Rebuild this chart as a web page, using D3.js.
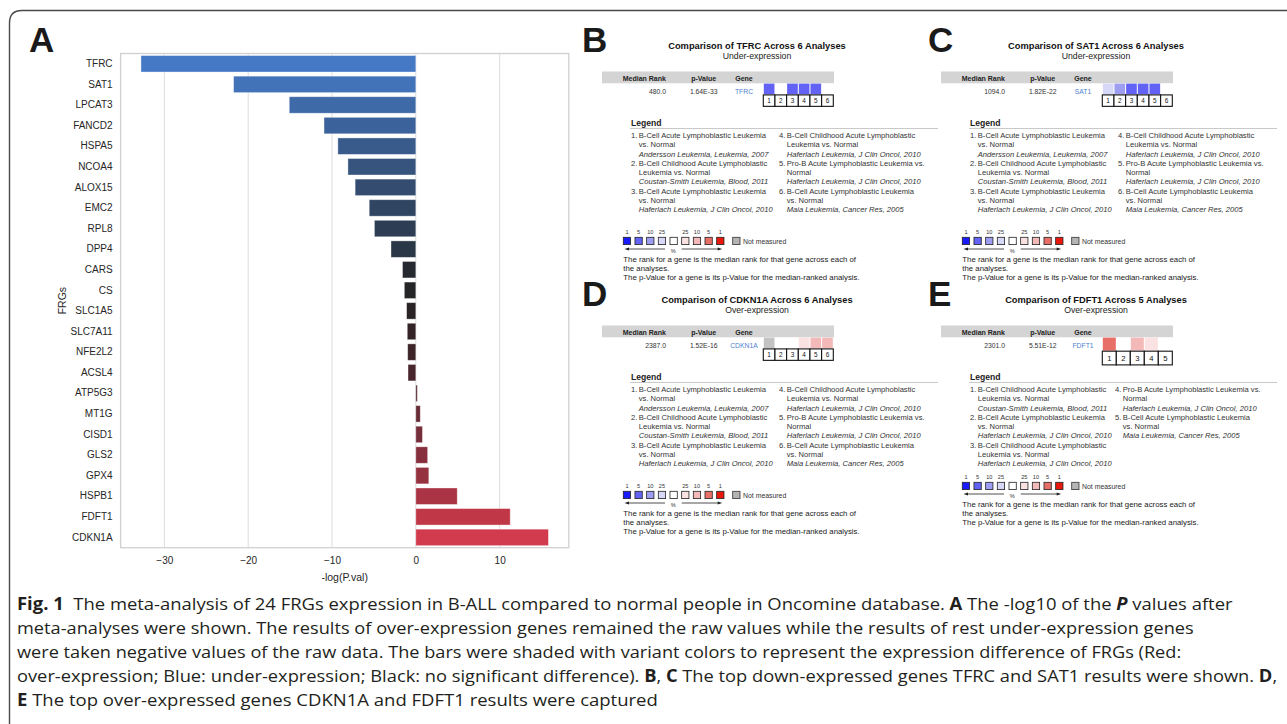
<!DOCTYPE html>
<html>
<head>
<meta charset="utf-8">
<script src="https://cdn.jsdelivr.net/npm/d3@7"></script>
<style>
  body { margin: 0; background: #fff; }
  svg { display: block; }
  text { white-space: pre; }
</style>
</head>
<body>
<svg id="fig" width="1287" height="724"></svg>
<script>
// ---------- Panel A: meta-analysis of 24 FRGs ----------
const genes = ["TFRC","SAT1","LPCAT3","FANCD2","HSPA5","NCOA4","ALOX15","EMC2","RPL8","DPP4",
  "CARS","CS","SLC1A5","SLC7A11","NFE2L2","ACSL4","ATP5G3","MT1G","CISD1","GLS2","GPX4",
  "HSPB1","FDFT1","CDKN1A"];
const negLogP = [-32.79,-21.74,-15.1,-10.95,-9.3,-8.1,-7.24,-5.56,-4.94,-2.96,
  -1.59,-1.37,-1.1,-1.02,-0.97,-0.93,0.18,0.53,0.79,1.41,1.55,
  4.94,11.26,15.82];
const xTicks = [-30,-20,-10,0,10];
const barColors = ["#4579c6","#4273b8","#3e6aa8","#3b629a","#385b8c","#36547e","#334c70","#304562",
  "#2d3e54","#2a3746","#262a30","#242526","#2a2326","#332326","#3d2429","#48252c","#562931",
  "#672c36","#762e3a","#872f3d","#963140","#aa3444","#c03848","#d23b4d"];

// ---------- Panels B–E: Oncomine comparisons ----------
const cellsTFRC = ["u5","w","u5","u5","u5","w"];
const cellsSAT1 = ["u25","u10","u5","u5","u5","w"];
const cellsCDKN1A = ["na","w","w","o25","o10","o10"];
const cellsFDFT1 = ["o5","w","o10","o25","w"];
const cellFill = {u1:"#1a1aff",u5:"#6262f5",u10:"#9d9df2",u25:"#d7d7f8",w:"#ffffff",
  o25:"#fbe2e2",o10:"#f3b8b8",o5:"#e86f68",o1:"#e8180c",na:"#c2c2c2"};

const analysesSix = [
  ["1.","B-Cell Acute Lymphoblastic Leukemia","vs. Normal","Andersson Leukemia, Leukemia, 2007"],
  ["2.","B-Cell Childhood Acute Lymphoblastic","Leukemia vs. Normal","Coustan-Smith Leukemia, Blood, 2011"],
  ["3.","B-Cell Acute Lymphoblastic Leukemia","vs. Normal","Haferlach Leukemia, J Clin Oncol, 2010"],
  ["4.","B-Cell Childhood Acute Lymphoblastic","Leukemia vs. Normal","Haferlach Leukemia, J Clin Oncol, 2010"],
  ["5.","Pro-B Acute Lymphoblastic Leukemia vs.","Normal","Haferlach Leukemia, J Clin Oncol, 2010"],
  ["6.","B-Cell Acute Lymphoblastic Leukemia","vs. Normal","Maia Leukemia, Cancer Res, 2005"]
];
const analysesFive = [
  ["1.","B-Cell Childhood Acute Lymphoblastic","Leukemia vs. Normal","Coustan-Smith Leukemia, Blood, 2011"],
  ["2.","B-Cell Acute Lymphoblastic Leukemia","vs. Normal","Haferlach Leukemia, J Clin Oncol, 2010"],
  ["3.","B-Cell Childhood Acute Lymphoblastic","Leukemia vs. Normal","Haferlach Leukemia, J Clin Oncol, 2010"],
  ["4.","Pro-B Acute Lymphoblastic Leukemia vs.","Normal","Haferlach Leukemia, J Clin Oncol, 2010"],
  ["5.","B-Cell Acute Lymphoblastic Leukemia","vs. Normal","Maia Leukemia, Cancer Res, 2005"]
];
const rankLabels = ["1","5","10","25","","25","10","5","1"];
const rankKeys = ["u1","u5","u10","u25","w","o25","o10","o5","o1"];
const footerLines = [
  "The rank for a gene is the median rank for that gene across each of",
  "the analyses.",
  "The p-Value for a gene is its p-Value for the median-ranked analysis."
];

const panels = [
  {letter:"B", gene:"TFRC", direction:"Under-expression", rank:"480.0", p:"1.64E-33", cells:cellsTFRC, analyses:analysesSix, dx:0, dy:0, keyShift:0, col2:0},
  {letter:"C", gene:"SAT1", direction:"Under-expression", rank:"1094.0", p:"1.82E-22", cells:cellsSAT1, analyses:analysesSix, dx:339, dy:0, keyShift:0, col2:0},
  {letter:"D", gene:"CDKN1A", direction:"Over-expression", rank:"2387.0", p:"1.52E-16", cells:cellsCDKN1A, analyses:analysesSix, dx:0, dy:254, keyShift:0, col2:0},
  {letter:"E", gene:"FDFT1", direction:"Over-expression", rank:"2301.0", p:"5.51E-12", cells:cellsFDFT1, analyses:analysesFive, dx:339, dy:254, keyShift:-9, col2:-3}
];

// ---------- Caption ----------
const captionLines = [
  [["Fig. 1","b"],["  The meta-analysis of 24 FRGs expression in B-ALL compared to normal people in Oncomine database. ",""],["A","b"],[" The -log10 of the ",""],["P","bi"],[" values after",""]],
  [["meta-analyses were shown. The results of over-expression genes remained the raw values while the results of rest under-expression genes",""]],
  [["were taken negative values of the raw data. The bars were shaded with variant colors to represent the expression difference of FRGs (Red:",""]],
  [["over-expression; Blue: under-expression; Black: no significant difference). ",""],["B","b"],[", ",""],["C","b"],[" The top down-expressed genes TFRC and SAT1 results were shown. ",""],["D","b"],[",",""]],
  [["E","b"],[" The top over-expressed genes CDKN1A and FDFT1 results were captured",""]]
];
const captionEnds = [1234, 1194, 1182, 1278, 658];

const SANS = "'Liberation Sans', Arial, Helvetica, sans-serif";
const svg = d3.select("#fig");
svg.append("rect").attr("width", 1287).attr("height", 724).attr("fill", "#fff");

// page frame
svg.append("path")
  .attr("d", "M9.5,724 V23 Q9.5,10.5 22,10.5 H1287")
  .attr("fill", "none").attr("stroke", "#4a4a4a").attr("stroke-width", 1.4);

// panel letters
const letters = [["A",29,52],["B",582,52],["C",928,52],["D",582,306],["E",928,306]];
svg.selectAll("text.letter").data(letters).join("text")
  .attr("class","letter")
  .attr("x", d => d[1]).attr("y", d => d[2])
  .attr("font-family", SANS).attr("font-weight", "bold").attr("font-size", 35)
  .attr("fill", "#1a1a1a").text(d => d[0]);

// ---------- Panel A ----------
const plot = {left:120.6, right:568.8, top:53.5, bottom:547.7};
const lo = d3.min(negLogP), hi = d3.max(negLogP), pad = (hi - lo) * 0.05;
const x = d3.scaleLinear().domain([lo - pad, hi + pad]).range([plot.left, plot.right]);
const y = d3.scaleBand().domain(genes).range([plot.top, plot.bottom]).paddingInner(0.2).paddingOuter(0.1);

const gA = svg.append("g");
gA.selectAll("line.grid").data(xTicks).join("line")
  .attr("class","grid")
  .attr("x1", d => x(d)).attr("x2", d => x(d))
  .attr("y1", plot.top).attr("y2", plot.bottom)
  .attr("stroke", "#dcdcdc").attr("stroke-width", 1);

gA.selectAll("rect.bar").data(genes).join("rect")
  .attr("class","bar")
  .attr("x", (d,i) => x(Math.min(0, negLogP[i])))
  .attr("width", (d,i) => Math.abs(x(negLogP[i]) - x(0)))
  .attr("y", d => y(d)).attr("height", y.bandwidth())
  .attr("fill", (d,i) => barColors[i])
  .attr("stroke", "#ffffff").attr("stroke-opacity", 0.45).attr("stroke-width", 0.8);

gA.append("rect")
  .attr("x", plot.left).attr("y", plot.top)
  .attr("width", plot.right - plot.left).attr("height", plot.bottom - plot.top)
  .attr("fill", "none").attr("stroke", "#d0d0d0").attr("stroke-width", 1.3);

const xAxis = gA.append("g").attr("transform", `translate(0,${plot.bottom})`)
  .call(d3.axisBottom(x).tickValues(xTicks).tickSize(0).tickPadding(9));
const yAxis = gA.append("g").attr("transform", `translate(${plot.left},0)`)
  .call(d3.axisLeft(y).tickSize(0).tickPadding(8));
[xAxis, yAxis].forEach(a => {
  a.select(".domain").remove();
  a.selectAll("text").attr("font-family", SANS).attr("font-size", 10).attr("fill", "#262626");
});

gA.append("text")
  .attr("x", (plot.left + plot.right) / 2).attr("y", 581)
  .attr("text-anchor", "middle").attr("font-family", SANS).attr("font-size", 10.5)
  .attr("fill", "#262626").text("-log(P.val)");
gA.append("text")
  .attr("transform", `translate(66,${(plot.top + plot.bottom) / 2}) rotate(-90)`)
  .attr("text-anchor", "middle").attr("font-family", SANS).attr("font-size", 10.5)
  .attr("fill", "#262626").text("FRGs");

// ---------- Panels B–E ----------
function drawOncomine(p) {
  const g = svg.append("g").attr("transform", `translate(${p.dx},${p.dy})`);
  const n = p.cells.length;
  const txt = (xx, yy, s, size, opts = {}) => g.append("text")
    .attr("x", xx).attr("y", yy).text(s)
    .attr("font-family", SANS).attr("font-size", size)
    .attr("font-weight", opts.bold ? "bold" : "normal")
    .attr("font-style", opts.italic ? "italic" : "normal")
    .attr("text-anchor", opts.anchor || "start")
    .attr("fill", opts.fill || "#222");

  txt(757, 49, `Comparison of ${p.gene} Across ${n} Analyses`, 9.3, {bold:true, anchor:"middle", fill:"#111"});
  txt(757, 58.5, p.direction, 8.7, {anchor:"middle", fill:"#222"});

  // header band
  g.append("rect").attr("x", 602).attr("y", 71.5).attr("width", 232).attr("height", 11.8).attr("fill", "#d4d4d4");
  txt(644.3, 80.8, "Median Rank", 7, {bold:true, anchor:"middle"});
  txt(703.7, 80.8, "p-Value", 7, {bold:true, anchor:"middle"});
  txt(744, 80.8, "Gene", 7, {bold:true, anchor:"middle"});
  txt(666, 93.6, p.rank, 6.8, {anchor:"end", fill:"#333"});
  txt(703.7, 93.6, p.p, 6.8, {anchor:"middle", fill:"#333"});
  txt(744, 93.6, p.gene, 6.8, {anchor:"middle", fill:"#4f7fcf"});

  // per-analysis rank cells and their numbers
  const cx = d3.scaleBand().domain(d3.range(n)).range([763.3, 833.3]);
  const cw = cx.bandwidth();
  const ch = cw * 0.97;
  const y0 = 83.6;
  g.selectAll("rect.cell").data(p.cells).join("rect")
    .attr("x", (d,i) => cx(i) + 0.5).attr("y", y0)
    .attr("width", cw - 1).attr("height", ch - 0.6)
    .attr("fill", d => cellFill[d]);
  g.selectAll("rect.num").data(p.cells).join("rect")
    .attr("x", (d,i) => cx(i)).attr("y", y0 + ch)
    .attr("width", cw).attr("height", cw * 0.98)
    .attr("fill", "#fff").attr("stroke", "#111").attr("stroke-width", 1.1);
  g.selectAll("text.num").data(p.cells).join("text")
    .attr("x", (d,i) => cx(i) + cw / 2).attr("y", y0 + ch + cw * 0.49 + cw * 0.19)
    .attr("text-anchor", "middle").attr("font-family", SANS).attr("font-size", cw * 0.55)
    .attr("fill", "#111").text((d,i) => i + 1);

  // legend of analyses
  txt(631, 125.5, "Legend", 8.6, {bold:true, fill:"#222"});
  g.append("line").attr("x1", 630).attr("x2", 938).attr("y1", 128.5).attr("y2", 128.5)
    .attr("stroke", "#c9c9c9").attr("stroke-width", 1);
  const lh = 9.25;
  p.analyses.forEach((a, i) => {
    const col = i < 3 ? 0 : 1;
    const row = (i % 3) * 3;
    const nx = col === 0 ? 631 : 779 + p.col2;
    const tx = nx + 7.8;
    const by = 138 + row * lh;
    txt(nx, by, a[0], 7.6, {fill:"#333"});
    txt(tx, by, a[1], 7.6, {fill:"#333"});
    txt(tx, by + lh, a[2], 7.6, {fill:"#333"});
    txt(tx, by + 2 * lh, a[3], 7.6, {italic:true, fill:"#333"});
  });

  // colour key for rank percentiles
  const k = g.append("g").attr("transform", `translate(0,${p.keyShift})`);
  const kx = d3.scaleBand().domain(d3.range(rankKeys.length)).range([623.3, 623.3 + 11.67 * rankKeys.length]);
  k.selectAll("text.rk").data(rankLabels).join("text")
    .attr("x", (d,i) => kx(i) + 3.65).attr("y", 234.3)
    .attr("text-anchor", "middle").attr("font-family", SANS).attr("font-size", 5.6)
    .attr("fill", "#333").text(d => d);
  k.selectAll("rect.rk").data(rankKeys).join("rect")
    .attr("x", (d,i) => kx(i)).attr("y", 237.3).attr("width", 7.3).attr("height", 7.3)
    .attr("fill", d => cellFill[d]).attr("stroke", "#222").attr("stroke-width", 0.8);
  k.append("rect").attr("x", 732.7).attr("y", 237.3).attr("width", 7.3).attr("height", 7.3)
    .attr("fill", "#b4b4b4").attr("stroke", "#333").attr("stroke-width", 0.8);
  k.append("text").attr("x", 743).attr("y", 243.6).text("Not measured")
    .attr("font-family", SANS).attr("font-size", 6.9).attr("fill", "#333");
  const ay = 249;
  k.append("line").attr("x1", 627).attr("x2", 665).attr("y1", ay).attr("y2", ay).attr("stroke", "#222").attr("stroke-width", 0.8);
  k.append("path").attr("d", `M624.5,${ay} L629,${ay - 1.6} L629,${ay + 1.6} Z`).attr("fill", "#222");
  k.append("line").attr("x1", 681.7).attr("x2", 719.5).attr("y1", ay).attr("y2", ay).attr("stroke", "#222").attr("stroke-width", 0.8);
  k.append("path").attr("d", `M722.2,${ay} L717.7,${ay - 1.6} L717.7,${ay + 1.6} Z`).attr("fill", "#222");
  k.append("text").attr("x", 673.3).attr("y", 253.2).attr("text-anchor", "middle").text("%")
    .attr("font-family", SANS).attr("font-size", 5.6).attr("fill", "#333");
  k.selectAll("text.foot").data(footerLines).join("text")
    .attr("x", 623.3).attr("y", (d,i) => 261.5 + i * 9.3)
    .attr("font-family", SANS).attr("font-size", 7.8).attr("fill", "#1a1a1a").text(d => d);
}
panels.forEach(drawOncomine);

// ---------- Caption ----------
const capStart = 17;
captionLines.forEach((segs, i) => {
  const t = svg.append("text")
    .attr("x", 0).attr("y", 0)
    .attr("font-family", "'Open Sans', 'Noto Sans', sans-serif")
    .attr("font-size", 17).attr("fill", "#231f20");
  segs.forEach(([s, f]) => {
    t.append("tspan").text(s)
      .attr("font-weight", f.includes("b") ? "bold" : "normal")
      .attr("font-style", f.includes("i") ? "italic" : "normal");
  });
  const w = t.node().getComputedTextLength();
  const sx = (captionEnds[i] - capStart) / w;
  t.attr("transform", `translate(${capStart},${609.5 + i * 24.2}) scale(${sx},1)`);
});
</script>
</body>
</html>
